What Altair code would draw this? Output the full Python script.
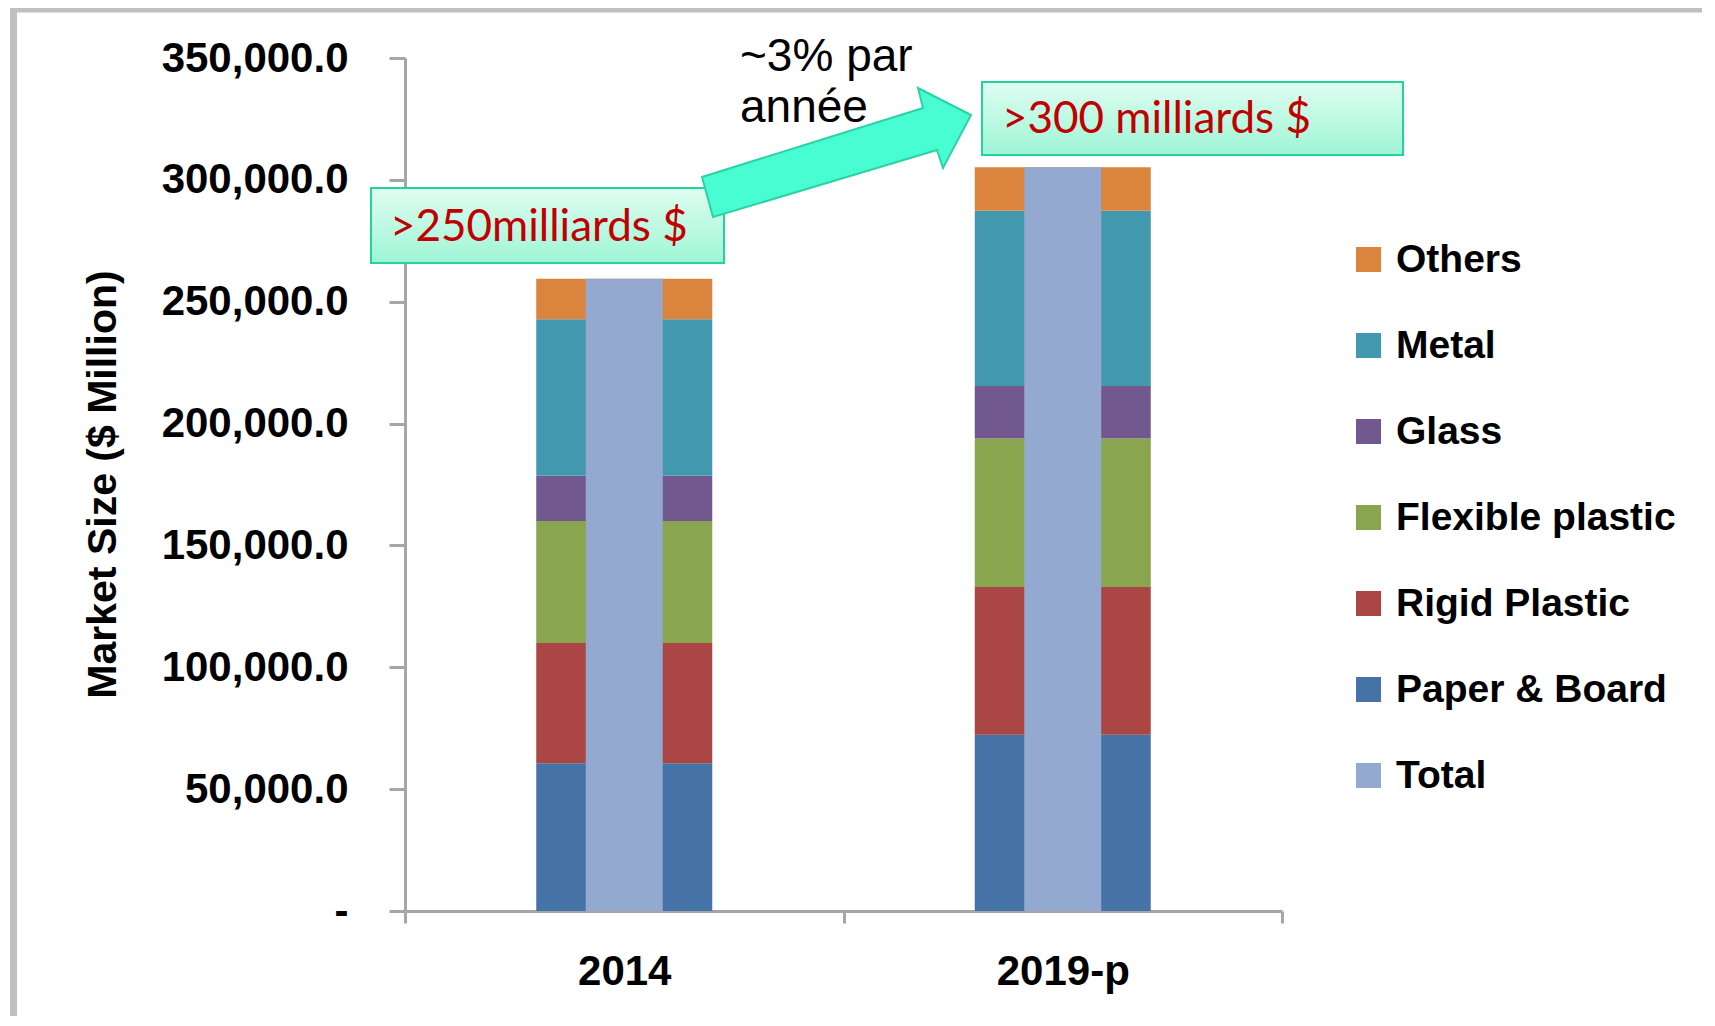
import altair as alt
import pandas as pd

years = ["2014", "2019-p"]
materials = ["Paper & Board", "Rigid Plastic", "Flexible plastic", "Glass", "Metal", "Others"]
values_2014 = [60600, 49400, 50000, 18600, 64200, 16600]
values_2019 = [72300, 60600, 61000, 21500, 71900, 17900]
totals = [259400, 305200]

legend_order = ["Others", "Metal", "Glass", "Flexible plastic", "Rigid Plastic", "Paper & Board", "Total"]
legend_colors = ["#DB843D", "#4198AF", "#71588F", "#89A54E", "#AA4643", "#4572A7", "#93A9CF"]

y_ticks = [0, 50000, 100000, 150000, 200000, 250000, 300000, 350000]

rows = []
for yr, vals in zip(years, [values_2014, values_2019]):
    for i, (m, v) in enumerate(zip(materials, vals)):
        rows.append({"year": yr, "series": m, "value": v, "order": i})
stack_df = pd.DataFrame(rows)
total_df = pd.DataFrame({"year": years, "series": ["Total"] * 2, "value": totals})

color = alt.Color(
    "series:N",
    scale=alt.Scale(domain=legend_order, range=legend_colors),
    legend=alt.Legend(
        title=None, orient="none", legendX=944, legendY=182,
        symbolType="square", symbolSize=625, symbolStrokeWidth=0,
        labelFont="Liberation Sans", labelFontWeight="bold", labelFontSize=39,
        labelColor="#000000", labelOffset=8, rowPadding=46, labelLimit=400,
    ),
)

x_enc = alt.X(
    "year:N", sort=years, title=None,
    scale=alt.Scale(paddingInner=0, paddingOuter=0),
    axis=alt.Axis(
        labelAngle=0, labelFont="Liberation Sans", labelFontWeight="bold", labelFontSize=42,
        labelColor="#000000", domainColor="#a6a6a6", domainWidth=3, tickColor="#a6a6a6",
        tickWidth=3, tickSize=12, tickBand="extent", labelPadding=28,
    ),
)
y_enc = alt.Y(
    "value:Q", title="Market Size ($ Million)",
    scale=alt.Scale(domain=[0, 350000], nice=False),
    axis=alt.Axis(
        values=y_ticks, grid=False, labelLimit=400,
        labelExpr="datum.value == 0 ? '-\u2002' : format(datum.value, ',.1f')",
        labelFont="Liberation Sans", labelFontWeight="bold", labelFontSize=42, labelColor="#000000",
        labelPadding=41, tickSize=16, tickWidth=3, tickColor="#a6a6a6",
        domainColor="#a6a6a6", domainWidth=3,
        titleFont="Liberation Sans", titleFontWeight="bold", titleFontSize=41, titleColor="#000000",
        titleX=-302, titleY=426, titleBaseline="middle", titleAngle=-90,
    ),
)

stack = alt.Chart(stack_df).mark_bar(size=176).encode(
    x=x_enc, y=y_enc, color=color, order=alt.Order("order:Q", sort="ascending")
)
total = alt.Chart(total_df).mark_bar(size=77).encode(x=x_enc, y="value:Q", color=color)

one = pd.DataFrame({"a": [1]})

grad = alt.LinearGradient(
    gradient="linear",
    stops=[alt.GradientStop(color="#dffdf1", offset=0), alt.GradientStop(color="#9ef5d6", offset=1)],
    x1=0, x2=0, y1=0, y2=1,
)

box1 = alt.Chart(one).mark_rect(fill=grad, stroke="#22d39c", strokeWidth=2).encode(
    x=alt.value(-34), x2=alt.value(319), y=alt.value(130), y2=alt.value(205)
)
box2 = alt.Chart(one).mark_rect(fill=grad, stroke="#22d39c", strokeWidth=2).encode(
    x=alt.value(577), x2=alt.value(998), y=alt.value(24), y2=alt.value(97)
)
txt1 = alt.Chart(one).mark_text(
    align="left", baseline="alphabetic", font="Lato", fontSize=44, color="#c00000"
).encode(x=alt.value(-15), y=alt.value(183), text=alt.value(">250milliards $"))
txt2 = alt.Chart(one).mark_text(
    align="left", baseline="alphabetic", font="Lato", fontSize=44, color="#c00000"
).encode(x=alt.value(597), y=alt.value(75), text=alt.value(">300 milliards $"))
txt3 = alt.Chart(one).mark_text(
    align="left", baseline="alphabetic", font="Liberation Sans", fontSize=46, color="#000000",
    lineHeight=51,
).encode(x=alt.value(335), y=alt.value(13), text=alt.value(["~3% par", "année"]))

arrow_path = "M -153 39 L 68 -30 L 63 -50 L 116 -23 L 88 30 L 82 12 L -142 79 Z"
arrow = alt.Chart(one).mark_point(
    shape=arrow_path, size=4, filled=True, fill="#47fdd1", stroke="#2bd2a4",
    strokeWidth=2, opacity=1, fillOpacity=1,
).encode(x=alt.value(450), y=alt.value(80))

frame_left = alt.Chart(one).mark_rule(color="#c0c0c0", strokeWidth=7).encode(
    x=alt.value(-391.5), y=alt.value(-50), y2=alt.value(960)
)
frame_top = alt.Chart(one).mark_rule(color="#c0c0c0", strokeWidth=5).encode(
    y=alt.value(-48), x=alt.value(-395), x2=alt.value(1300)
)

chart = alt.layer(frame_left, frame_top, stack, total, box1, txt1, arrow, box2, txt2, txt3).properties(
    width=877, height=853,
    autosize=alt.AutoSizeParams(type="none"),
    padding={"left": 397, "top": 50, "right": 420, "bottom": 105},
    background="#ffffff",
).configure_view(stroke=None)

chart.save("out.html", embed_options={"renderer": "svg", "actions": False})
